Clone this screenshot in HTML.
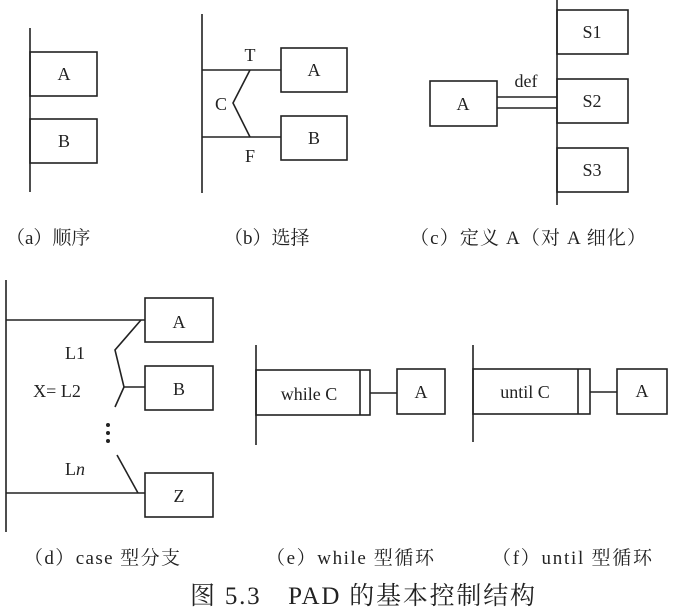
<!DOCTYPE html>
<html><head><meta charset="utf-8"><style>
body{margin:0;background:#fff}
svg{display:block}
text{font-family:"Liberation Serif","Noto Serif CJK SC",serif;fill:#222}
</style></head><body>
<svg width="673" height="611" viewBox="0 0 673 611" xmlns="http://www.w3.org/2000/svg">
<g stroke="#222" stroke-width="1.6" fill="none">
<line x1="30" y1="28" x2="30" y2="192"/>
<rect x="30" y="52" width="67" height="44"/>
<rect x="30" y="119" width="67" height="44"/>
<line x1="202" y1="14" x2="202" y2="193"/>
<line x1="202" y1="70" x2="281" y2="70"/>
<line x1="202" y1="137" x2="281" y2="137"/>
<rect x="281" y="48" width="66" height="44"/>
<rect x="281" y="116" width="66" height="44"/>
<polyline points="250,70 233,103 250,137"/>
<line x1="557" y1="0" x2="557" y2="205"/>
<rect x="557" y="10" width="71" height="44"/>
<rect x="557" y="79" width="71" height="44"/>
<rect x="557" y="148" width="71" height="44"/>
<rect x="430" y="81" width="67" height="45"/>
<line x1="497" y1="97" x2="557" y2="97"/>
<line x1="497" y1="108" x2="557" y2="108"/>
<line x1="6" y1="280" x2="6" y2="532"/>
<line x1="6" y1="320" x2="145" y2="320"/>
<line x1="6" y1="493" x2="145" y2="493"/>
<rect x="145" y="298" width="68" height="44"/>
<rect x="145" y="366" width="68" height="44"/>
<rect x="145" y="473" width="68" height="44"/>
<polyline points="141,320 115,350 124,387 115,407"/>
<line x1="124" y1="387" x2="145" y2="387"/>
<line x1="117" y1="455" x2="138" y2="493"/>
<line x1="256" y1="345" x2="256" y2="445"/>
<rect x="256" y="370" width="114" height="45"/>
<line x1="360" y1="370" x2="360" y2="415"/>
<line x1="370" y1="393" x2="397" y2="393"/>
<rect x="397" y="369" width="48" height="45"/>
<line x1="473" y1="345" x2="473" y2="442"/>
<rect x="473" y="369" width="117" height="45"/>
<line x1="578" y1="369" x2="578" y2="414"/>
<line x1="590" y1="392" x2="617" y2="392"/>
<rect x="617" y="369" width="50" height="45"/>
</g>
<g fill="#222"><circle cx="108" cy="425" r="2"/><circle cx="108" cy="433" r="2"/><circle cx="108" cy="441" r="2"/></g>
<g font-size="18" text-anchor="middle">
<text x="64" y="80">A</text><text x="64" y="147">B</text>
<text x="314" y="76">A</text><text x="314" y="144">B</text>
<text x="250" y="61">T</text><text x="250" y="162">F</text><text x="221" y="110">C</text>
<text x="592" y="38">S1</text><text x="592" y="107">S2</text><text x="592" y="176">S3</text>
<text x="463" y="110">A</text><text x="526" y="87">def</text>
<text x="179" y="328">A</text><text x="179" y="395">B</text><text x="179" y="502">Z</text>
<text x="75" y="359">L1</text><text x="57" y="397">X=  L2</text><text x="75" y="475">L<tspan font-style="italic">n</tspan></text>
<text x="309" y="400">while C</text><text x="421" y="398">A</text>
<text x="525" y="398">until C</text><text x="642" y="397">A</text>
</g>
<g font-size="19">
<text x="6" y="244">（a）顺序</text>
<text x="224" y="244">（b）选择</text>
<text x="410" y="244" textLength="236" lengthAdjust="spacing">（c）定义 A（对 A 细化）</text>
<text x="24" y="564" textLength="156" lengthAdjust="spacing">（d）case 型分支</text>
<text x="266" y="564" textLength="168" lengthAdjust="spacing">（e）while 型循环</text>
<text x="492" y="564" textLength="160" lengthAdjust="spacing">（f）until 型循环</text>
</g>
<text x="190" y="604" font-size="25" textLength="345" lengthAdjust="spacing">图 5.3　PAD 的基本控制结构</text>
</svg>
</body></html>
